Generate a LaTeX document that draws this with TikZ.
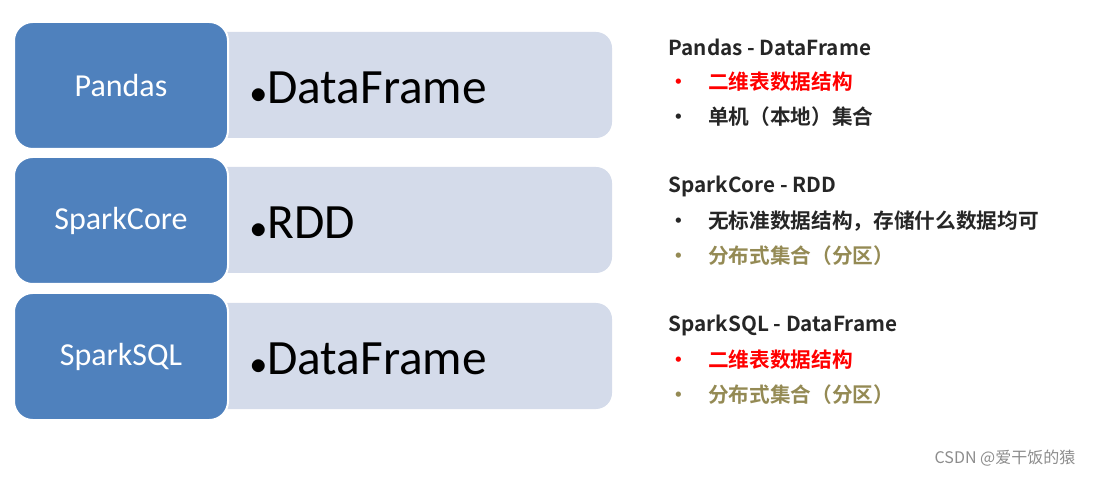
\documentclass[tikz,border=0pt]{standalone}
\usepackage{fontspec}
\setmainfont{Carlito}
\newfontfamily\cjk{Noto Sans CJK SC}[BoldFont={Noto Sans CJK SC Bold}]
\usetikzlibrary{shadows}
\definecolor{bbl}{HTML}{4F81BD}
\definecolor{lbl}{HTML}{D4DBEA}
\definecolor{olv}{HTML}{948A54}
\begin{document}
\begin{tikzpicture}[x=0.75pt,y=-0.75pt,
 blue/.style={fill=bbl,draw=white,line width=1.5pt,rounded corners=12pt,minimum width=216\pgflinewidth,anchor=north west},
 lite/.style={fill=lbl,draw=none,rounded corners=12pt,anchor=north west},
 lab/.style={text=white,font=\fontsize{24}{24}\selectfont},
 big/.style={font=\fontsize{37}{37}\selectfont,anchor=west},
 hd/.style={font=\cjk\bfseries\fontsize{15.5}{16}\selectfont,anchor=west,text=black!85},
 it/.style={font=\cjk\bfseries\fontsize{15.5}{16}\selectfont,anchor=west}]
\useasboundingbox (0,0) rectangle (1096,477);
\foreach \n/\y/\l/\b in {a/22/Pandas/DataFrame,b/157/SparkCore/RDD,c/293/SparkSQL/DataFrame}{
 \fill[lbl,rounded corners=12pt] (200,\y+10) rectangle (612,\y+116);
 \fill[bbl,draw=white,line width=1.5pt,rounded corners=14pt] (14,\y) rectangle (228,\y+127);
 \node[lab] (\n l) at (121,\y+64) {\l};
 \node[big] (\n b) at (246,\y+66) {$\bullet$\b};
}
\node[hd] (h1) at (664,47) {Pandas - DataFrame};
\node[it,text=red] (i11) at (664,82) {•\hspace{14pt}二维表数据结构};
\node[it,text=black!85] (i12) at (664,117) {•\hspace{14pt}单机（本地）集合};
\node[hd] (h2) at (664,186) {SparkCore - RDD};
\node[it,text=black!85] (i21) at (664,221) {•\hspace{14pt}无标准数据结构，存储什么数据均可};
\node[it,text=olv] (i22) at (664,256) {•\hspace{14pt}分布式集合（分区）};
\node[hd] (h3) at (664,325) {SparkSQL - DataFrame};
\node[it,text=red] (i31) at (664,360) {•\hspace{14pt}二维表数据结构};
\node[it,text=olv] (i32) at (664,395) {•\hspace{14pt}分布式集合（分区）};
\node[font=\cjk\fontsize{12}{12}\selectfont,text=black!45,anchor=east] (w) at (1080,458) {CSDN @爱干饭的猿};
\end{tikzpicture}
\end{document}
